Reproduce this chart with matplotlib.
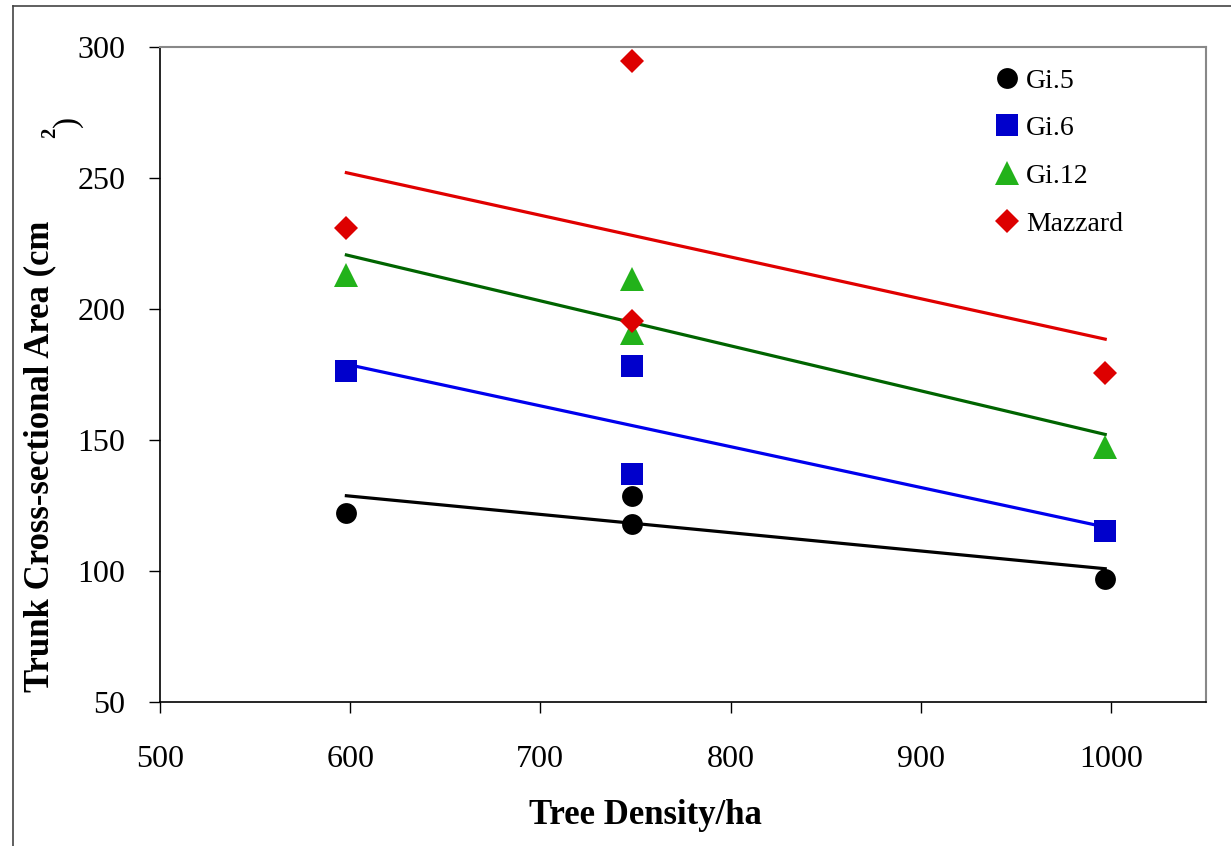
import numpy as np
import matplotlib
matplotlib.use("Agg")
import matplotlib.pyplot as plt
from matplotlib.lines import Line2D

# tree density (trees/ha) for each plot
density = [598, 748, 748, 997]

# trunk cross-sectional area (cm2) per rootstock
gi5 = [122.3, 128.8, 118.0, 97.0]
gi6 = [176.3, 178.4, 136.9, 115.2]
gi12 = [212.8, 211.5, 190.8, 147.4]
mazzard = [230.8, 294.8, 195.5, 175.7]

series = [
    ("Gi.5", gi5, "o", 15, "#000000", "#000000"),
    ("Gi.6", gi6, "s", 16, "#0000CC", "#0000EE"),
    ("Gi.12", gi12, "^", 17, "#22B21A", "#006400"),
    ("Mazzard", mazzard, "D", 11.8, "#DD0000", "#E00000"),
]

plt.rcParams["font.family"] = ["Liberation Serif", "DejaVu Serif"]

fig = plt.figure(figsize=(12.31, 8.46), dpi=100)
ax = fig.add_axes([160 / 1231, 1 - 702 / 846, 1046 / 1231, 655 / 846])

x = np.array(density, dtype=float)
handles = []
for name, vals, mk, ms, col, lcol in series:
    h, = ax.plot(x, vals, linestyle="none", marker=mk, markersize=ms,
                 color=col, markeredgewidth=0, label=name, zorder=3)
    handles.append(h)
    # least-squares trend line over the measured density range
    k, b = np.polyfit(x, vals, 1)
    xs = np.array([x.min(), x.max()])
    ax.plot(xs, k * xs + b, color=lcol, linewidth=2.3, zorder=2)

ax.set_xlim(500, 1050)
ax.set_ylim(50, 300)
ax.set_xticks([500, 600, 700, 800, 900, 1000])
ax.set_yticks([50, 100, 150, 200, 250, 300])
ax.tick_params(axis="y", direction="out", length=8, width=1, pad=17, labelsize=23)
ax.tick_params(axis="x", direction="out", length=8, width=1, pad=23, labelsize=23)

for side in ("left", "bottom"):
    ax.spines[side].set_color("#000000")
    ax.spines[side].set_linewidth(1.2)
for side in ("top", "right"):
    ax.spines[side].set_color("#888888")
    ax.spines[side].set_linewidth(1.5)

ax.set_xlabel("Tree Density/ha", fontsize=25, fontweight="bold")
ax.xaxis.set_label_coords((645 - 160) / 1046, -(815 - 702) / 655)
ax.xaxis.label.set_va("center")

# y label: Excel puts the superscript and closing bracket off on their own
fig.text(40 / 1231, 1 - 456 / 846, "Trunk Cross-sectional Area (cm",
         rotation=90, fontsize=25, fontweight="bold", ha="center", va="center")
fig.text(50 / 1231, 1 - 133 / 846, "2", rotation=90, fontsize=15,
         fontweight="bold", ha="center", va="center")
fig.text(68 / 1231, 1 - 121 / 846, ")", rotation=90, fontsize=24,
         ha="center", va="center")

ax.legend(handles=handles, loc="upper left",
          bbox_to_anchor=(979 / 1231, 1 - 57 / 846),
          bbox_transform=fig.transFigure, frameon=False, fontsize=20,
          handletextpad=0.1, labelspacing=0.8, handlelength=1.2,
          borderaxespad=0, numpoints=1)

# outer chart border (left and top edges)
fig.add_artist(Line2D([12.5 / 1231, 12.5 / 1231], [0, 1 - 6 / 846],
                      transform=fig.transFigure, color="#444444", linewidth=1.2))
fig.add_artist(Line2D([12.5 / 1231, 1], [1 - 6 / 846, 1 - 6 / 846],
                      transform=fig.transFigure, color="#444444", linewidth=1.2))

fig.savefig("out.png", dpi=100)
